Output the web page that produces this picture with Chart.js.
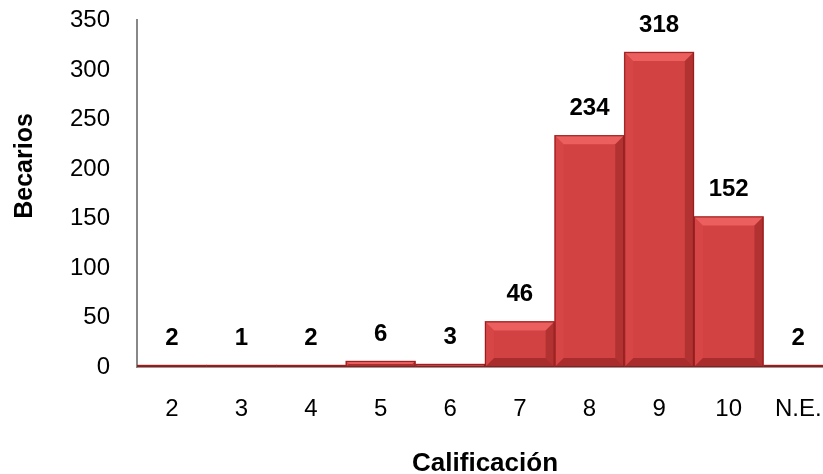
<!DOCTYPE html>
<html>
<head>
<meta charset="utf-8">
<script src="https://cdn.jsdelivr.net/npm/chart.js@4/dist/chart.umd.min.js"></script>
<style>
  html,body{margin:0;padding:0;background:#fff;overflow:hidden}
  #wrap{width:852px;height:484px;position:relative}
</style>
</head>
<body>
<div id="wrap"><canvas id="c" width="852" height="484"></canvas></div>
<script>
const categories = ['2','3','4','5','6','7','8','9','10','N.E.']
const becarios = [2,1,2,6,3,46,234,318,152,2]
const yTicks = [0,50,100,150,200,250,300,350]

const font = "'Liberation Sans', Arial, sans-serif"

// labels above each bar + the rotated y title
const valueLabels = {
  id:'valueLabels',
  afterDatasetsDraw(chart){
    const ctx = chart.ctx
    const meta = chart.getDatasetMeta(0)
    ctx.save()
    ctx.font = 'bold 24px ' + font
    ctx.fillStyle = '#000'
    ctx.textAlign = 'center'
    ctx.textBaseline = 'middle'
    meta.data.forEach((bar,i)=>{
      ctx.fillText(String(becarios[i]), bar.x, bar.y - 27)
    })
    // y axis title, sits a bit above the middle like the original
    const a = chart.chartArea
    ctx.translate(25, a.top + a.height*0.42)
    ctx.rotate(-Math.PI/2)
    ctx.font = 'bold 25px ' + font
    ctx.fillText('Becarios', 0, 0)
    ctx.restore()
  }
}

// bevel highlight on bars
const bevel = {
  id:'bevel',
  afterDatasetDraw(chart){
    const ctx = chart.ctx
    const meta = chart.getDatasetMeta(0)
    ctx.save()
    meta.data.forEach(bar=>{
      const l = bar.x - bar.width/2, r = bar.x + bar.width/2
      const t = bar.y, b = bar.base
      const h = b - t
      const d = Math.min(9, h/2)
      if(h < 2) return
      ctx.fillStyle = 'rgba(255,120,120,0.55)'
      ctx.beginPath(); ctx.moveTo(l,t); ctx.lineTo(r,t); ctx.lineTo(r-d,t+d); ctx.lineTo(l+d,t+d); ctx.closePath(); ctx.fill()
      ctx.fillStyle = 'rgba(230,80,80,0.3)'
      ctx.beginPath(); ctx.moveTo(l,t); ctx.lineTo(l+d,t+d); ctx.lineTo(l+d,b-d); ctx.lineTo(l,b); ctx.closePath(); ctx.fill()
      ctx.fillStyle = 'rgba(120,20,20,0.35)'
      ctx.beginPath(); ctx.moveTo(r,t); ctx.lineTo(r-d,t+d); ctx.lineTo(r-d,b-d); ctx.lineTo(r,b); ctx.closePath(); ctx.fill()
      ctx.fillStyle = 'rgba(110,15,15,0.4)'
      ctx.beginPath(); ctx.moveTo(l,b); ctx.lineTo(l+d,b-d); ctx.lineTo(r-d,b-d); ctx.lineTo(r,b); ctx.closePath(); ctx.fill()
      ctx.strokeStyle = 'rgba(140,25,25,0.9)'
      ctx.lineWidth = 1
      ctx.strokeRect(l+0.5, t+0.5, r-l-1, h-1)
    })
    ctx.restore()
  }
}

new Chart(document.getElementById('c'), {
  type:'bar',
  data:{
    labels:categories,
    datasets:[{
      data:becarios,
      backgroundColor:'#d24242',
      borderWidth:0,
      categoryPercentage:1,
      barPercentage:1,
      minBarLength:2
    }]
  },
  options:{
    responsive:false,
    animation:false,
    devicePixelRatio:1,
    layout:{padding:{top:20,right:8,bottom:0,left:52}},
    plugins:{legend:{display:false},tooltip:{enabled:false}},
    scales:{
      x:{
        grid:{display:false, drawTicks:false},
        border:{display:true,color:'#999',width:2},
        ticks:{color:'#000',font:{family:font,size:24,lineHeight:1},padding:30,autoSkip:false,maxRotation:0},
        title:{display:true,text:'Calificación',color:'#000',font:{family:font,size:26,weight:'bold',lineHeight:1},padding:{top:0,bottom:7}}
      },
      y:{
        min:0,max:350,
        afterBuildTicks(axis){ axis.ticks = yTicks.map(v=>({value:v})) },
        grid:{display:false, drawOnChartArea:false, drawTicks:true, tickLength:9, color:'#888'},
        border:{display:true,color:'#888',width:2},
        ticks:{color:'#000',font:{family:font,size:24,lineHeight:0.2},padding:18,autoSkip:false}
      }
    }
  },
  plugins:[bevel, valueLabels]
})
</script>
</body>
</html>
